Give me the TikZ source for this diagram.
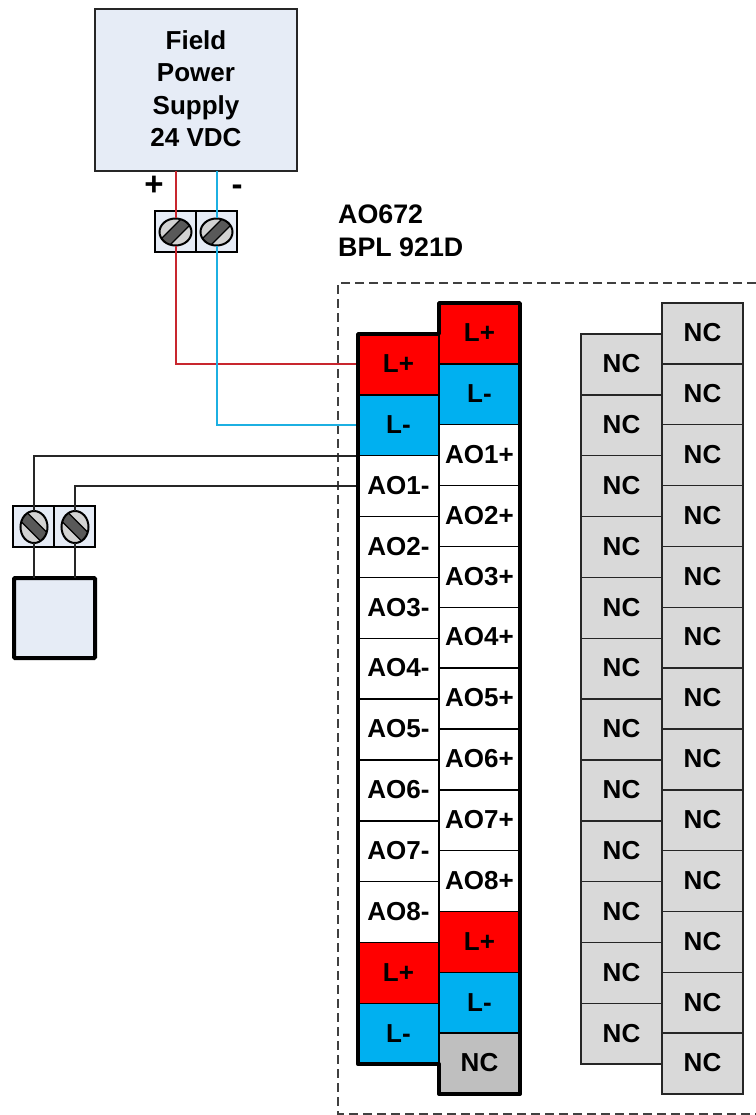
\documentclass[tikz,border=0pt]{standalone}
\usepackage{fontspec}
\setmainfont{Liberation Sans}
\usetikzlibrary{shapes.geometric}
\definecolor{boxblue}{HTML}{E6ECF6}
\definecolor{ncgray}{HTML}{D9D9D9}
\definecolor{ncdark}{HTML}{BFBFBF}
\definecolor{lred}{HTML}{FF0000}
\definecolor{lblue}{HTML}{00B0F0}
\definecolor{wirered}{HTML}{C8262E}
\definecolor{wireblue}{HTML}{1CB0E2}
\definecolor{screwfill}{HTML}{D2D2D2}
\definecolor{slotfill}{HTML}{595959}
\tikzset{
  x=1pt,y=-1pt,
  lab/.style={font=\bfseries\fontsize{26}{32.5}\selectfont},
  cell/.style={draw=black,line width=1.5pt,minimum width=81pt,minimum height=60.85pt,inner sep=0pt,outer sep=0pt,
    lab,text height=19pt,text depth=2.5pt},
  ao/.style={cell,fill=white},
  lp/.style={cell,fill=lred},
  lm/.style={cell,fill=lblue},
  nc/.style={cell,fill=ncgray,draw=black!85},
  ncd/.style={cell,fill=ncdark},
  termcell/.style={draw=black,line width=1.4pt,fill=boxblue,minimum width=41pt,minimum height=41pt,inner sep=0pt,outer sep=0pt},
  screwbase/.style={ellipse,draw=black,line width=2pt,fill=screwfill,inner sep=0pt,outer sep=0pt},
  screwup/.style={screwbase,minimum width=32pt,minimum height=27pt,
    path picture={
      \draw[black,line width=12pt] ([shift={(-18,18)}]path picture bounding box.center) -- ([shift={(18,-18)}]path picture bounding box.center);
      \draw[slotfill,line width=9pt] ([shift={(-18,18)}]path picture bounding box.center) -- ([shift={(18,-18)}]path picture bounding box.center);}},
  screwdown/.style={screwbase,minimum width=27pt,minimum height=32pt,
    path picture={
      \draw[black,line width=12pt] ([shift={(-18,-18)}]path picture bounding box.center) -- ([shift={(18,18)}]path picture bounding box.center);
      \draw[slotfill,line width=9pt] ([shift={(-18,-18)}]path picture bounding box.center) -- ([shift={(18,18)}]path picture bounding box.center);}},
  redw/.style={draw=wirered,line width=2pt},
  bluew/.style={draw=wireblue,line width=2pt},
  blackw/.style={draw=black!85,line width=2pt},
}
\begin{document}
\begin{tikzpicture}
\useasboundingbox (0,0) rectangle (755,1115);
% module frame
\draw[black!75,line width=2pt,dash pattern=on 9pt off 5pt] (756,283) -- (338,283) -- (338,1114) -- (756,1114);
\node[font=\bfseries\fontsize{26.8}{33}\selectfont,align=left,anchor=west,inner sep=0pt] (title) at (338,231) {AO672\\BPL 921D};
% power supply
\node[draw=black!85,line width=1.6pt,fill=boxblue,minimum width=202pt,minimum height=162pt,inner sep=0pt,outer sep=0pt] (supply) at (196,90) {};
\node[lab,align=center,inner sep=0pt] (supplytext) at (196,88.8) {Field\\Power\\Supply\\24 VDC};
\node[font=\bfseries\fontsize{33}{33}\selectfont,inner sep=0pt] (plus) at (154,186) {+};
\node[font=\bfseries\fontsize{33}{33}\selectfont,inner sep=0pt] (minus) at (237,190) {-};
% top terminal block
\node[termcell] (ta) at (175.5,231.5) {};
\node[termcell] (tb) at (216.5,231.5) {};
\node[screwup] (sa) at (175.5,232) {};
\node[screwup] (sb) at (216.5,232) {};
% lower terminal block
\node[termcell] (tc) at (33.5,526.5) {};
\node[termcell] (td) at (74.5,526.5) {};
\node[screwdown] (sc) at (34,527) {};
\node[screwdown] (sd) at (75,527) {};
% field device
\node[draw=black,line width=4pt,fill=boxblue,minimum width=81pt,minimum height=80pt,inner sep=0pt,outer sep=0pt,rounded corners=1pt] (dev) at (54.5,618) {};
% left terminal column
\foreach \nm/\st/\tx [count=\i from 0] in {lpa/lp/L+,lma/lm/L-,aoam/ao/AO1-,aobm/ao/AO2-,aocm/ao/AO3-,aodm/ao/AO4-,aoem/ao/AO5-,aofm/ao/AO6-,aogm/ao/AO7-,aohm/ao/AO8-,lpb/lp/L+,lmb/lm/L-}
  \node[\st] (\nm) at (398.5,{334+60.85*\i+30.42}) {\tx};
% right terminal column
\foreach \nm/\st/\tx [count=\i from 0] in {rpa/lp/L+,rma/lm/L-,aoap/ao/AO1+,aobp/ao/AO2+,aocp/ao/AO3+,aodp/ao/AO4+,aoep/ao/AO5+,aofp/ao/AO6+,aogp/ao/AO7+,aohp/ao/AO8+,rpb/lp/L+,rmb/lm/L-,rnc/ncd/NC}
  \node[\st] (\nm) at (479.5,{303+60.85*\i+30.42}) {\tx};
% NC columns
\foreach \i in {0,...,11}
  \node[nc] (ncl\i) at (621.5,{334+60.85*\i+30.42}) {NC};
\foreach \i in {0,...,12}
  \node[nc] (ncr\i) at (702.5,{303+60.85*\i+30.42}) {NC};
% wiring
\draw[redw] (sa.north |- supply.south) -- (sa.north);
\draw[bluew] (sb.north |- supply.south) -- (sb.north);
\draw[redw] (sa.south) |- (lpa.west);
\draw[bluew] (sb.south) |- (lma.west);
\draw[blackw] (sc.north) |- (aoam.north west);
\draw[blackw] (sd.north) |- (aoam.west);
\draw[blackw] (sc.south) -- (sc.south |- dev.north);
\draw[blackw] (sd.south) -- (sd.south |- dev.north);
% heavy outline of the terminal columns
\draw[black,line width=3.8pt,line join=round] (lpa.north west) -- (lpa.north east) -- (rpa.north west) -- (rpa.north east) -- (rnc.south east) -- (rnc.south west) -- (lmb.south east) -- (lmb.south west) -- cycle;
\end{tikzpicture}
\end{document}
